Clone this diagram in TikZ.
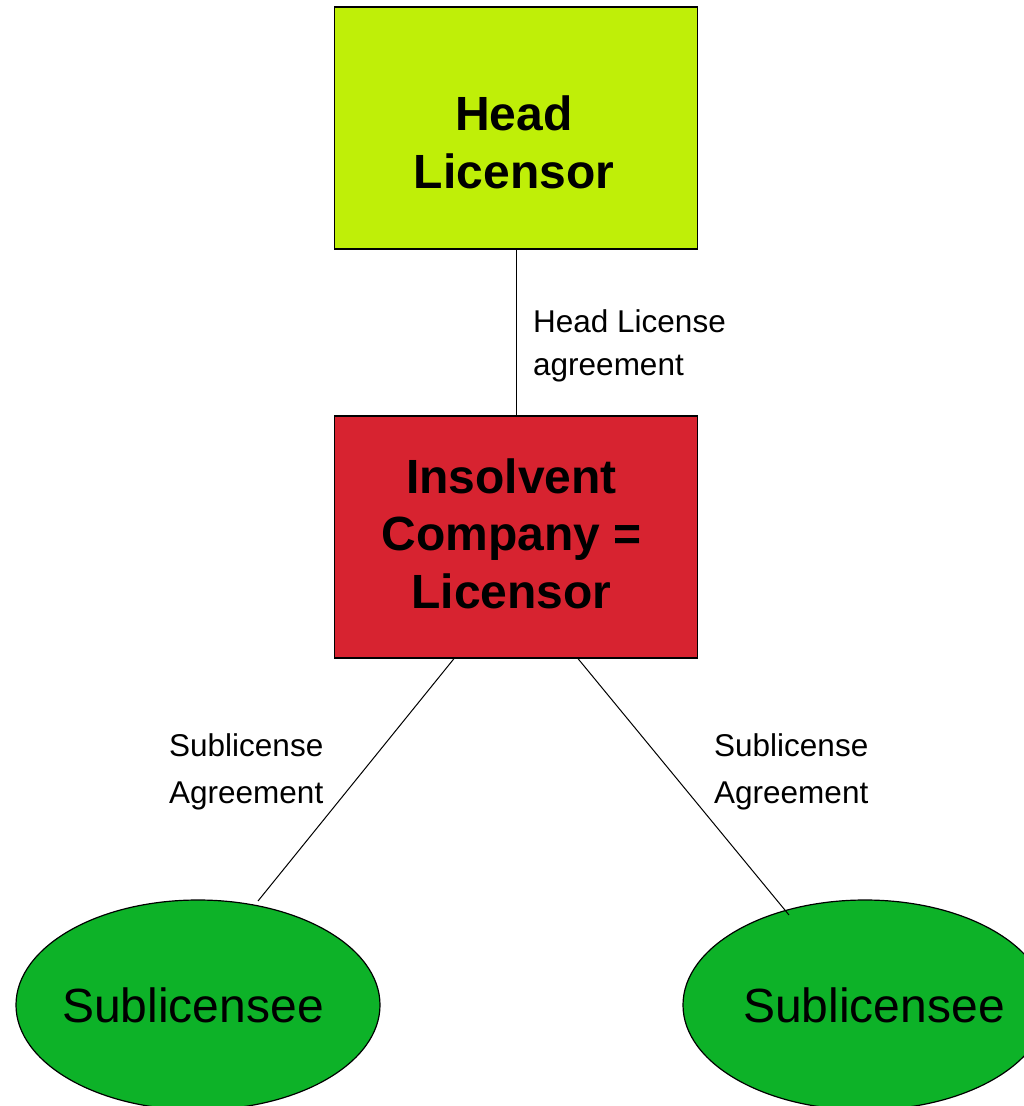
\documentclass[tikz,border=0pt]{standalone}
\usepackage{fontspec}
\setmainfont{Liberation Sans}
\usetikzlibrary{shapes.geometric}
\definecolor{limefill}{HTML}{BFEF08}
\definecolor{redfill}{HTML}{D72330}
\definecolor{greenfill}{HTML}{0DB228}
\tikzset{
  partybox/.style={draw=black, line width=1.3pt, rectangle, inner sep=0pt,
    minimum width=363pt, minimum height=242pt},
  partyoval/.style={draw=black, line width=1.2pt, ellipse, inner sep=0pt,
    minimum width=364pt, minimum height=210pt, fill=greenfill},
  boxtext/.style={inner sep=0pt, align=center,
    font=\fontsize{48}{57.5}\selectfont\bfseries},
  ovaltext/.style={inner sep=0pt, anchor=base,
    font=\fontsize{48}{58}\selectfont},
  linklabel/.style={inner sep=0pt, anchor=north west, align=left},
  link/.style={draw=black, line width=1pt}
}
\begin{document}
\begin{tikzpicture}[x=1pt,y=-1pt]
  \useasboundingbox (0,0) rectangle (1024,1106);

  % parties
  \node[partybox, fill=limefill] (head) at (516,128) {};
  \node[partybox, fill=redfill] (insolvent) at (516,537) {};
  \node[partyoval] (subA) at (198,1005) {};
  \node[partyoval] (subB) at (865,1005) {};

  % party names
  \node[boxtext] (headtxt) at (514,142.5) {Head\\Licensor};
  \node[boxtext] (insolventtxt) at (511.5,533.5) {Insolvent\\Company =\\Licensor};
  \node[ovaltext] (subAtxt) at (193,1022) {Sublicensee};
  \node[ovaltext] (subBtxt) at (874,1022) {Sublicensee};

  % connector ends near the ovals
  \coordinate (endA) at (258,901);
  \coordinate (endB) at (789,915);
  \coordinate (startA) at (454.5,658);
  \coordinate (startB) at (577.5,658);

  % agreements
  \draw[link] (head.south) -- (insolvent.north);
  \draw[link] (startA) -- (endA);
  \draw[link] (startB) -- (endB);

  % agreement labels
  \node[linklabel, font=\fontsize{31.5}{43.5}\selectfont] (lblhead) at (533,309) {Head License\\agreement};
  \node[linklabel, font=\fontsize{31.5}{47}\selectfont] (lblA) at (169,733) {Sublicense\\Agreement};
  \node[linklabel, font=\fontsize{31.5}{47}\selectfont] (lblB) at (714,733) {Sublicense\\Agreement};
\end{tikzpicture}
\end{document}
